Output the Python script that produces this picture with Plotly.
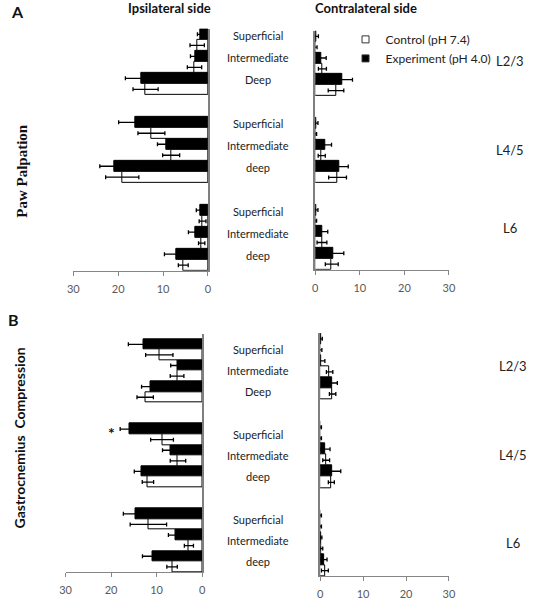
import plotly.graph_objects as go

# ---------------- data ----------------
segments = ["L2/3", "L4/5", "L6"]
layers = ["Superficial", "Intermediate", "Deep"]
layer_text = [["Superficial", "Intermediate", "Deep"],
              ["Superficial", "Intermediate", "deep"],
              ["Superficial", "Intermediate", "deep"]]
categories = [f"{s} {l}" for s in segments for l in layers]
category_order = categories[0:3] + ["gap1"] + categories[3:6] + ["gap2"] + categories[6:9]

# Panel A - Paw palpation
A_ipsi_exp = [1.7, 2.75, 14.9, 16.1, 9.35, 20.9, 1.8, 2.75, 7.0]
A_ipsi_exp_err = [0.65, 1.15, 3.5, 3.8, 1.9, 3.2, 0.8, 1.6, 2.7]
A_ipsi_ctrl = [2.4, 3.0, 13.9, 12.6, 8.2, 19.1, 1.2, 1.4, 5.5]
A_ipsi_ctrl_err = [1.6, 1.6, 2.8, 3.0, 1.9, 3.7, 0.76, 0.7, 1.1]

A_contra_exp = [0.3, 1.45, 6.05, 0.3, 2.25, 5.3, 0.3, 1.6, 4.1]
A_contra_exp_err = [0.4, 1.0, 2.3, 0.3, 1.4, 2.1, 0.3, 1.2, 2.3]
A_contra_ctrl = [0.1, 1.6, 4.65, 0.1, 1.45, 5.0, 0.1, 1.5, 3.7]
A_contra_ctrl_err = [0.3, 0.9, 1.75, 0.2, 0.8, 2.0, 0.2, 1.1, 1.45]

# Panel B - Gastrocnemius compression
B_ipsi_exp = [12.8, 5.5, 11.3, 15.9, 7.0, 13.4, 14.7, 5.9, 11.0]
B_ipsi_exp_err = [3.4, 1.4, 2.0, 2.1, 1.7, 1.5, 2.6, 1.5, 2.1]
B_ipsi_ctrl = [9.4, 5.5, 12.5, 8.8, 5.3, 11.9, 11.8, 2.9, 6.6]
B_ipsi_ctrl_err = [3.0, 1.5, 1.8, 2.5, 1.7, 1.25, 4.0, 1.0, 1.15]

B_contra_exp = [0.2, 0.3, 2.7, 0.1, 1.1, 2.9, 0.1, 0.2, 0.9]
B_contra_exp_err = [0.3, 0.8, 1.3, 0.2, 1.2, 1.9, 0.2, 0.2, 0.7]
B_contra_ctrl = [0.1, 2.2, 2.9, 0.1, 1.4, 2.6, 0.1, 0.3, 1.1]
B_contra_ctrl_err = [0.3, 0.75, 0.75, 0.2, 0.8, 0.7, 0.2, 0.3, 0.8]

x_ticks = [0, 10, 20, 30]
series_names = ["Experiment (pH 4.0)", "Control (pH 7.4)"]
significant = ("B_ipsi", "L4/5 Superficial")

# ---------------- figure ----------------
W, H = 534, 600
FONT = "Lato"


def dx(a, b):
    return [a / W, b / W]


def dy(top, bottom):
    return [1 - bottom / H, 1 - top / H]


fig = go.Figure()

panels = [
    ("x", "y", A_ipsi_exp, A_ipsi_exp_err, A_ipsi_ctrl, A_ipsi_ctrl_err),
    ("x2", "y2", A_contra_exp, A_contra_exp_err, A_contra_ctrl, A_contra_ctrl_err),
    ("x3", "y3", B_ipsi_exp, B_ipsi_exp_err, B_ipsi_ctrl, B_ipsi_ctrl_err),
    ("x4", "y4", B_contra_exp, B_contra_exp_err, B_contra_ctrl, B_contra_ctrl_err),
]

for xa, ya, ex, exe, ct, cte in panels:
    fig.add_trace(go.Bar(
        y=categories, x=ex, orientation="h", name=series_names[0],
        marker=dict(color="black", line=dict(color="black", width=1)),
        error_x=dict(type="data", array=exe, color="black", thickness=1.3, width=2),
        xaxis=xa, yaxis=ya, showlegend=False, legendgroup="exp"))
    fig.add_trace(go.Bar(
        y=categories, x=ct, orientation="h", name=series_names[1],
        marker=dict(color="white", line=dict(color="black", width=1)),
        error_x=dict(type="data", array=cte, color="black", thickness=1.3, width=2),
        xaxis=xa, yaxis=ya, showlegend=False, legendgroup="ctrl"))

# legend entries (small square keys like the original)
for name, col, grp in ((series_names[1], "white", "ctrl"), (series_names[0], "black", "exp")):
    fig.add_trace(go.Scatter(x=[None], y=[None], mode="markers", name=name,
                             legendgroup=grp, xaxis="x2", yaxis="y2",
                             marker=dict(symbol="square", size=7, color=col,
                                         line=dict(color="#333", width=1))))


def xaxis(domain, rng, anchor):
    return dict(domain=domain, range=rng, tickvals=x_ticks, ticks="outside",
                ticklen=4, tickcolor="#868686", showline=True, linecolor="#868686",
                linewidth=1, showgrid=False, zeroline=False, anchor=anchor,
                tickfont=dict(family=FONT, size=11, color="#595959"),
                ticklabelstandoff=4, fixedrange=True)


def yaxis(domain, rng, side, anchor):
    return dict(domain=domain, type="category", categoryorder="array",
                categoryarray=category_order, range=rng, showticklabels=False,
                ticks="", showline=True, linecolor="#7f7f7f", linewidth=2,
                showgrid=False, zeroline=False, side=side, anchor=anchor,
                fixedrange=True)


fig.update_layout(
    width=W, height=H, margin=dict(l=0, r=0, t=0, b=0),
    paper_bgcolor="white", plot_bgcolor="white",
    barmode="group", bargap=0, bargroupgap=0,
    font=dict(family=FONT, color="#222222"),
    xaxis=xaxis(dx(69, 207), [30, 0], "y"),
    yaxis=yaxis(dy(29, 272), [10.5, -0.5], "right", "x"),
    xaxis2=xaxis(dx(317, 454), [0, 30], "y2"),
    yaxis2=yaxis(dy(31, 271), [10.5, -0.5], "left", "x2"),
    xaxis3=xaxis(dx(61, 201), [30, 0], "y3"),
    yaxis3=yaxis(dy(336, 575), [10.5, -0.72], "right", "x3"),
    xaxis4=xaxis(dx(322, 454), [0, 30], "y4"),
    yaxis4=yaxis(dy(335, 579), [10.5, -0.5], "left", "x4"),
    legend=dict(x=348 / W, y=1 - 25 / H, xanchor="left", yanchor="top",
                traceorder="normal", bgcolor="rgba(0,0,0,0)", borderwidth=0,
                font=dict(family=FONT, size=12, color="#222222"),
                itemclick=False, itemdoubleclick=False, tracegroupgap=0),
    showlegend=True,
)


def label(text, x, y, size, family=FONT, angle=0, color="#111"):
    return dict(text=text, x=x / W, y=1 - y / H, xref="paper", yref="paper",
                xanchor="center", yanchor="middle", showarrow=False, textangle=angle,
                font=dict(family=family, size=size, color=color))


ann = [
    label("<b>Ipsilateral side</b>", 168, 8, 13),
    label("<b>Contralateral side</b>", 369, 8, 13),
    label("<b>A</b>", 12, 12, 16),
    label("<b>B</b>", 8, 321, 16),
    label("<b>Paw Palpation</b>", 17, 172, 15, family="Liberation Serif", angle=-90),
    label("<b>Gastrocnemius\u00a0\u00a0Compression</b>", 14, 440, 14, angle=-90),
]

# layer labels (middle column)
for yref, shift in (("y", 4), ("y3", 0)):
    for si, seg in enumerate(segments):
        for li, lay in enumerate(layers):
            ann.append(dict(text=layer_text[si][li], x=258 / W, xref="paper",
                            xanchor="center", yanchor="middle",
                            y=f"{seg} {lay}", yref=yref, yshift=shift, showarrow=False,
                            font=dict(family=FONT, size=11, color="#222")))
# segment labels (right column)
seg_label_shift = {("y2", "L6"): 9, ("y2", "L2/3"): 2}
for yref, seg_x in (("y2", 517), ("y4", 520)):
    for seg in segments:
        ann.append(dict(text=seg, x=seg_x / W, xref="paper", y=f"{seg} Intermediate",
                        yref=yref, xanchor="center", yanchor="middle", showarrow=False,
                        yshift=seg_label_shift.get((yref, seg), 0),
                        font=dict(family=FONT, size=13, color="#222")))

# significance star
idx = categories.index(significant[1])
ann.append(dict(text="<b>*</b>", x=B_ipsi_exp[idx] + B_ipsi_exp_err[idx], xref="x3",
                y=significant[1], yref="y3", xanchor="right", yanchor="middle",
                xshift=-3, yshift=2, showarrow=False,
                font=dict(family=FONT, size=16, color="#111")))

fig.update_layout(annotations=ann)
fig.write_html("out.html", config={"displayModeBar": False},
               post_script="document.body.style.margin='0';document.body.style.overflow='hidden';")
